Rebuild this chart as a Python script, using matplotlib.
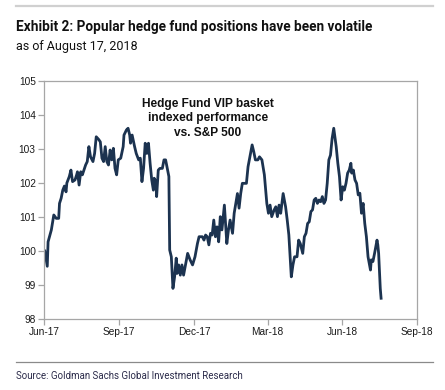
import matplotlib
matplotlib.use("Agg")
import matplotlib.pyplot as plt
import pandas as pd
from matplotlib.lines import Line2D

title = "Exhibit 2: Popular hedge fund positions have been volatile"
subtitle = "as of August 17, 2018"
source = "Source: Goldman Sachs Global Investment Research"
annotation = "Hedge Fund VIP basket\nindexed performance\nvs. S&P 500"

dates = [
    "2017-07-01", "2017-07-04", "2017-07-05", "2017-07-09", "2017-07-12", "2017-07-15",
    "2017-07-18", "2017-07-19", "2017-07-21", "2017-07-23", "2017-07-25", "2017-07-27",
    "2017-07-28", "2017-07-31", "2017-08-02", "2017-08-04", "2017-08-07", "2017-08-09",
    "2017-08-10", "2017-08-12", "2017-08-14", "2017-08-16", "2017-08-18", "2017-08-20",
    "2017-08-22", "2017-08-24", "2017-08-26", "2017-08-29", "2017-08-31", "2017-09-02",
    "2017-09-05", "2017-09-07", "2017-09-09", "2017-09-11", "2017-09-13", "2017-09-15",
    "2017-09-17", "2017-09-19", "2017-09-21", "2017-09-23", "2017-09-25", "2017-09-27",
    "2017-09-29", "2017-10-02", "2017-10-05", "2017-10-06", "2017-10-09", "2017-10-11",
    "2017-10-13", "2017-10-14", "2017-10-16", "2017-10-19", "2017-10-21", "2017-10-24",
    "2017-10-26", "2017-10-28", "2017-10-30", "2017-11-01", "2017-11-03", "2017-11-05",
    "2017-11-07", "2017-11-09", "2017-11-11", "2017-11-12", "2017-11-14", "2017-11-15",
    "2017-11-17", "2017-11-19", "2017-11-22", "2017-11-24", "2017-11-26", "2017-11-28",
    "2017-11-30", "2017-12-01", "2017-12-03", "2017-12-05", "2017-12-07", "2017-12-09",
    "2017-12-10", "2017-12-12", "2017-12-14", "2017-12-16", "2017-12-18", "2017-12-23",
    "2017-12-26", "2017-12-29", "2018-01-01", "2018-01-04", "2018-01-06", "2018-01-10",
    "2018-01-12", "2018-01-14", "2018-01-16", "2018-01-18", "2018-01-20", "2018-01-22",
    "2018-01-24", "2018-01-26", "2018-01-28", "2018-01-30", "2018-02-01", "2018-02-03",
    "2018-02-06", "2018-02-09", "2018-02-11", "2018-02-13", "2018-02-16", "2018-02-18",
    "2018-02-22", "2018-02-24", "2018-02-26", "2018-02-28", "2018-03-02", "2018-03-05",
    "2018-03-07", "2018-03-09", "2018-03-12", "2018-03-14", "2018-03-16", "2018-03-19",
    "2018-03-21", "2018-03-24", "2018-03-27", "2018-03-30", "2018-04-01", "2018-04-03",
    "2018-04-05", "2018-04-08", "2018-04-10", "2018-04-12", "2018-04-14", "2018-04-16",
    "2018-04-19", "2018-04-22", "2018-04-24", "2018-04-26", "2018-04-29", "2018-05-01",
    "2018-05-03", "2018-05-06", "2018-05-08", "2018-05-10", "2018-05-13", "2018-05-15",
    "2018-05-17", "2018-05-19", "2018-05-21", "2018-05-23", "2018-05-25", "2018-05-27",
    "2018-05-29", "2018-05-31", "2018-06-02", "2018-06-04", "2018-06-06", "2018-06-08",
    "2018-06-10", "2018-06-12", "2018-06-14", "2018-06-16", "2018-06-18", "2018-06-20",
    "2018-06-23", "2018-06-25", "2018-06-27", "2018-06-29", "2018-07-01", "2018-07-03",
    "2018-07-05", "2018-07-07", "2018-07-09", "2018-07-11", "2018-07-12", "2018-07-14",
    "2018-07-16", "2018-07-18", "2018-07-20", "2018-07-22", "2018-07-24", "2018-07-26",
    "2018-07-28", "2018-07-30", "2018-08-01", "2018-08-04", "2018-08-05", "2018-08-07",
    "2018-08-09", "2018-08-12", "2018-08-13", "2018-08-14", "2018-08-16", "2018-08-17",
]

values = [
    100.00, 99.55, 100.27, 100.62, 101.06, 100.96,
    100.96, 101.40, 101.55, 101.79, 101.91, 101.74,
    102.00, 102.19, 102.38, 102.04, 102.09, 102.24,
    102.33, 101.94, 102.33, 102.24, 102.38, 102.53,
    102.63, 103.07, 102.77, 102.63, 102.87, 103.36,
    103.28, 103.21, 102.73, 102.63, 103.07, 102.63,
    102.53, 102.97, 102.68, 103.02, 102.43, 102.24,
    102.68, 102.73, 103.07, 103.41, 103.56, 103.61,
    103.41, 103.17, 103.41, 103.07, 102.87, 102.68,
    102.73, 102.04, 102.43, 103.17, 102.87, 103.17,
    102.58, 102.09, 101.79, 102.14, 102.04, 101.60,
    102.38, 102.43, 102.43, 102.68, 102.68, 102.43,
    102.19, 100.03, 99.83, 98.90, 99.24, 99.79,
    99.34, 99.59, 99.29, 99.59, 99.29, 99.93,
    99.74, 99.59, 99.83, 100.22, 100.42, 100.42,
    100.32, 100.47, 100.42, 100.18, 100.52, 100.47,
    100.91, 100.42, 100.71, 100.27, 101.01, 100.62,
    101.35, 100.22, 100.62, 100.91, 100.52, 101.11,
    101.69, 101.26, 101.69, 101.99, 101.99, 101.99,
    102.48, 102.73, 103.12, 102.92, 102.68, 102.68,
    102.77, 102.68, 102.24, 101.40, 101.11, 101.35,
    101.01, 101.21, 101.30, 101.01, 101.35, 101.11,
    101.69, 101.30, 100.91, 100.47, 99.24, 99.59,
    99.83, 99.83, 100.32, 100.22, 99.93, 100.42,
    100.52, 100.81, 100.86, 101.16, 101.21, 101.50,
    101.55, 101.40, 101.50, 101.45, 101.60, 101.40,
    101.50, 101.99, 102.68, 102.82, 103.31, 103.61,
    103.07, 102.58, 102.19, 101.50, 101.89, 101.79,
    101.99, 102.29, 102.38, 102.58, 102.29, 102.38,
    102.09, 101.99, 101.65, 101.70, 101.11, 101.40,
    100.81, 100.42, 99.83, 99.44, 99.74, 99.69,
    99.93, 100.32, 100.18, 99.93, 98.90, 98.61,
]

tick_dates = ["2017-06-30", "2017-09-30", "2017-12-31", "2018-03-31", "2018-06-30", "2018-09-30"]
tick_labels = ["Jun-17", "Sep-17", "Dec-17", "Mar-18", "Jun-18", "Sep-18"]
y_ticks = [98, 99, 100, 101, 102, 103, 104, 105]

arial = ["Liberation Sans", "DejaVu Sans"]
roboto = ["Roboto", "Liberation Sans", "DejaVu Sans"]

W, H = 445, 390
fig = plt.figure(figsize=(W / 100, H / 100), dpi=100)
fig.patch.set_facecolor("white")

# axes box: x 44-417, y 81-319 (pixels from top)
ax = fig.add_axes([44 / W, 1 - 319 / H, (417 - 44) / W, (319 - 81) / H])

x = pd.to_datetime(dates)
ax.plot(x, values, color="#1c3350", lw=2.0, solid_joinstyle="round")

ax.set_xlim(pd.Timestamp(tick_dates[0]), pd.Timestamp(tick_dates[-1]))
ax.set_ylim(98, 105)
ax.set_xticks(pd.to_datetime(tick_dates))
ax.set_xticklabels(tick_labels)
ax.set_yticks(y_ticks)
ax.set_yticklabels([str(v) for v in y_ticks])

spine_col = "#a6a6a6"
for s in ax.spines.values():
    s.set_color(spine_col)
    s.set_linewidth(0.9)
ax.tick_params(axis="both", colors=spine_col, length=4, width=0.9, direction="out")
ax.tick_params(axis="y", pad=2)
ax.tick_params(axis="x", pad=2)
for lab in ax.get_xticklabels() + ax.get_yticklabels():
    lab.set_color("#1a1a1a")
    lab.set_fontsize(7.3)
    lab.set_family(arial)

ax.text(0.44, 0.93, annotation, transform=ax.transAxes, ha="center", va="top",
        fontsize=8.6, fontweight="bold", family=arial, color="#111111",
        linespacing=1.3)

# header / footer rules
fig.add_artist(Line2D([16 / W, 433 / W], [1 - 6 / H, 1 - 6 / H], color="#d0d0d0", lw=1.6))
fig.add_artist(Line2D([16 / W, 433 / W], [1 - 362 / H, 1 - 362 / H], color="#8a8a8a", lw=0.9))

fig.text(16 / W, 1 - 31 / H, title, ha="left", va="baseline", fontsize=9.8,
         fontweight="bold", family=roboto, color="#111111")
fig.text(16 / W, 1 - 50 / H, subtitle, ha="left", va="baseline", fontsize=9.0,
         family=roboto, color="#111111")
fig.text(16 / W, 1 - 379 / H, source, ha="left", va="baseline", fontsize=7.0,
         family=roboto, color="#2b2b4a")

fig.savefig("out.png", dpi=100, facecolor="white")
